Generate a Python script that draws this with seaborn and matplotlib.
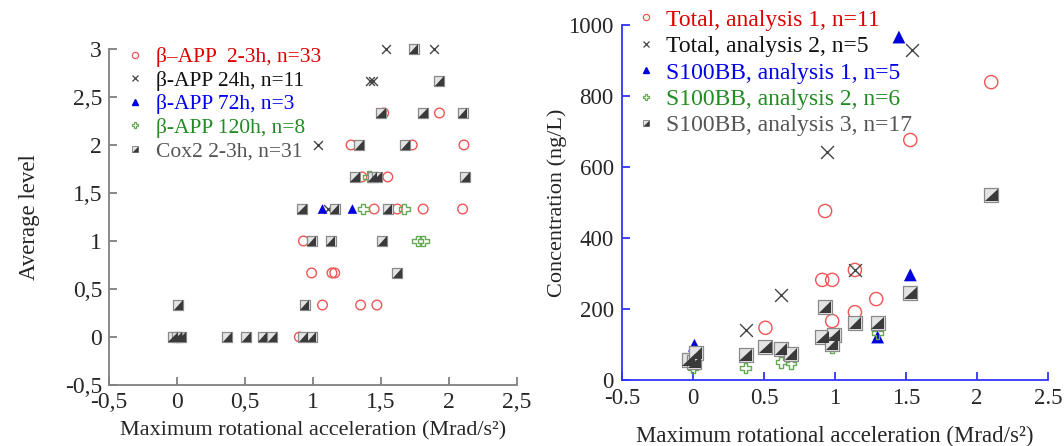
import matplotlib
matplotlib.use('Agg')
import matplotlib.pyplot as plt
import seaborn as sns
import pandas as pd
from matplotlib.lines import Line2D

# ---- left panel: average level vs acceleration ----
app23_x = [1.52, 1.93, 1.28, 1.73, 2.11, 1.36, 1.55, 1.45, 1.62, 1.81, 2.10,
           0.93, 0.99, 1.14, 1.16, 1.07, 1.35, 1.47, 0.90]
app23_y = [2.333, 2.333, 2, 2, 2, 1.667, 1.667, 1.333, 1.333, 1.333, 1.333,
           1, 0.667, 0.667, 0.667, 0.333, 0.333, 0.333, 0]
app24_x = [1.54, 1.89, 1.42, 1.44, 1.04, 1.11]
app24_y = [3, 3, 2.667, 2.667, 2, 1.333]
app72_x = [1.07, 1.29]
app72_y = [1.333, 1.333]
app120_x = [1.41, 1.37, 1.67, 1.77, 1.81]
app120_y = [1.667, 1.333, 1.333, 1, 1]
cox2_x = [1.74, 1.93, 1.50, 1.81, 2.10, 1.34, 1.68, 1.31, 1.44, 1.47, 2.12,
          0.92, 1.16, 1.55, 0.99, 1.13, 1.51, 1.62, 0.01, 0.94,
          -0.03, 0.03, 0.0, 0.37, 0.51, 0.63, 0.70, 0.93, 0.99]
cox2_y = [3, 2.667, 2.333, 2.333, 2.333, 2, 2, 1.667, 1.667, 1.667, 1.667,
          1.333, 1.333, 1.333, 1, 1, 1, 0.667, 0.333, 0.333,
          0, 0, 0, 0, 0, 0, 0, 0, 0]
left_labels = ['β–APP  2-3h, n=33', 'β-APP 24h, n=11', 'β-APP 72h, n=3',
               'β-APP 120h, n=8', 'Cox2 2-3h, n=31']

# ---- right panel: concentration vs acceleration ----
tot1_x = [2.10, 1.53, 0.93, 0.91, 0.98, 1.14, 1.29, 1.14, 0.98, 0.51]
tot1_y = [839, 676, 476, 282, 282, 310, 228, 191, 166, 147]
tot2_x = [1.54, 0.94, 1.14, 0.37, 0.62]
tot2_y = [930, 643, 310, 141, 239]
s1_x = [1.45, 1.53, 1.30, 0.01]
s1_y = [966, 296, 121, 98]
s2_x = [0.0, 0.37, 0.62, 0.69, 0.98, 1.30]
s2_y = [34, 34, 50, 47, 90, 132]
s3_x = [2.10, 1.53, 1.30, 1.14, 0.93, 0.91, 0.99, 0.98, 0.37, 0.51, 0.62,
        0.69, -0.03, 0.01, 0.02]
s3_y = [521, 245, 160, 160, 206, 121, 127, 101, 70, 93, 87, 73, 56, 51, 76]
right_labels = ['Total, analysis 1, n=11', 'Total, analysis 2, n=5',
                'S100BB, analysis 1, n=5', 'S100BB, analysis 2, n=6',
                'S100BB, analysis 3, n=17']

RED, BLUE, GREEN = '#f05555', '#0000dd', '#66aa55'
TXT = ['#dd0000', '#111111', '#0000ee', '#228b22', '#555555']
TRI = [(-1, -1), (1, -1), (1, 1)]  # lower-right half of the Cox2/S100BB marker

sns.set_style('ticks')
plt.rcParams['font.family'] = ['Liberation Serif', 'DejaVu Serif']

fig = plt.figure(figsize=(10.64, 4.46), dpi=100)
ax1 = fig.add_axes([0.1024, 0.1368, 0.3835, 0.7534])
ax2 = fig.add_axes([0.5846, 0.148, 0.4004, 0.796])


def half_square(ax, x, y, s):
    sns.scatterplot(x=x, y=y, ax=ax, marker='s', s=s, facecolor='#e4e4e4',
                    edgecolor='#8a8a8a', linewidth=0.9, zorder=4, clip_on=False)
    sns.scatterplot(x=x, y=y, ax=ax, marker=TRI, s=s * 0.75, color='#3a3a3a',
                    edgecolor='none', linewidth=0, zorder=5, clip_on=False)


def panel(ax, data, sizes):
    (cx, cy), (xx, xy), (tx, ty), (px, py), (qx, qy) = data
    sns.scatterplot(x=cx, y=cy, ax=ax, marker='o', s=sizes[0], facecolor='none',
                    edgecolor=RED, linewidth=1.0, zorder=2, clip_on=False)
    sns.scatterplot(x=xx, y=xy, ax=ax, marker='x', s=sizes[1], color='#444444',
                    linewidth=1.0, zorder=3, clip_on=False)
    sns.scatterplot(x=tx, y=ty, ax=ax, marker='^', s=sizes[2], color=BLUE,
                    edgecolor='none', zorder=3, clip_on=False)
    sns.scatterplot(x=px, y=py, ax=ax, marker='P', s=sizes[3], facecolor='none',
                    edgecolor=GREEN, linewidth=1.0, zorder=3, clip_on=False)
    half_square(ax, qx, qy, sizes[4])


def legend_handles(ms):
    return [
        Line2D([], [], ls='', marker='o', ms=ms, mfc='none', mec=RED, mew=0.9),
        Line2D([], [], ls='', marker='x', ms=ms, color='#444444', mew=0.9),
        Line2D([], [], ls='', marker='^', ms=ms, color=BLUE),
        Line2D([], [], ls='', marker='P', ms=ms, mfc='none', mec=GREEN, mew=0.9),
        (Line2D([], [], ls='', marker='s', ms=ms, mfc='#e4e4e4', mec='#8a8a8a', mew=0.7),
         Line2D([], [], ls='', marker=TRI, ms=ms * 0.85, mfc='#3a3a3a', mec='none')),
    ]


panel(ax1, [(app23_x, app23_y), (app24_x, app24_y), (app72_x, app72_y),
            (app120_x, app120_y), (cox2_x, cox2_y)], [48, 40, 48, 62, 60])
panel(ax2, [(tot1_x, tot1_y), (tot2_x, tot2_y), (s1_x, s1_y),
            (s2_x, s2_y), (s3_x, s3_y)], [90, 85, 85, 60, 110])

# left axes styling
ax1.set_xlim(-0.5, 2.5)
ax1.set_ylim(-0.5, 3)
xt = [-0.5, 0, 0.5, 1, 1.5, 2, 2.5]
yt = [-0.5, 0, 0.5, 1, 1.5, 2, 2.5, 3]
ax1.set_xticks(xt)
ax1.set_xticklabels([f'{v:g}'.replace('.', ',') for v in xt])
ax1.set_yticks(yt)
ax1.set_yticklabels([f'{v:g}'.replace('.', ',') for v in yt])
ax1.set_xlabel('Maximum rotational acceleration (Mrad/s²)', fontsize=16, labelpad=6)
ax1.set_ylabel('Average level', fontsize=16.5, labelpad=18)
for sp in ['top', 'right']:
    ax1.spines[sp].set_visible(False)
for sp in ['left', 'bottom']:
    ax1.spines[sp].set_color('#808080')
    ax1.spines[sp].set_linewidth(1.3)
ax1.tick_params(direction='in', length=6, width=1.3, color='#808080',
                labelsize=17, pad=5)
ax1.legend(legend_handles(4.5), left_labels, loc='upper left',
           bbox_to_anchor=(0.042, 1.005), frameon=False, fontsize=15.5,
           labelcolor=TXT, handlelength=0.8, handletextpad=0.6,
           labelspacing=0.16, borderpad=0, borderaxespad=0)

# right axes styling
ax2.set_xlim(-0.5, 2.5)
ax2.set_ylim(0, 1000)
ax2.set_xticks(xt)
ax2.set_xticklabels([f'{v:g}' for v in xt])
ax2.set_yticks([0, 200, 400, 600, 800, 1000])
ax2.set_xlabel('Maximum rotational acceleration (Mrad/s²)', fontsize=16.5, labelpad=12)
ax2.set_ylabel('Concentration (ng/L)', fontsize=16, labelpad=1)
for sp in ['top', 'right']:
    ax2.spines[sp].set_visible(False)
for sp in ['left', 'bottom']:
    ax2.spines[sp].set_color('#3333ff')
    ax2.spines[sp].set_linewidth(1.3)
ax2.tick_params(direction='in', length=6, width=1.3, color='#3333ff',
                labelsize=16.5, pad=6)
ax2.legend(legend_handles(4.5), right_labels, loc='upper left',
           bbox_to_anchor=(0.035, 1.045), frameon=False, fontsize=17,
           labelcolor=TXT, handlelength=0.8, handletextpad=0.45,
           labelspacing=0.21, borderpad=0, borderaxespad=0)

plt.savefig('out.png', dpi=100)
